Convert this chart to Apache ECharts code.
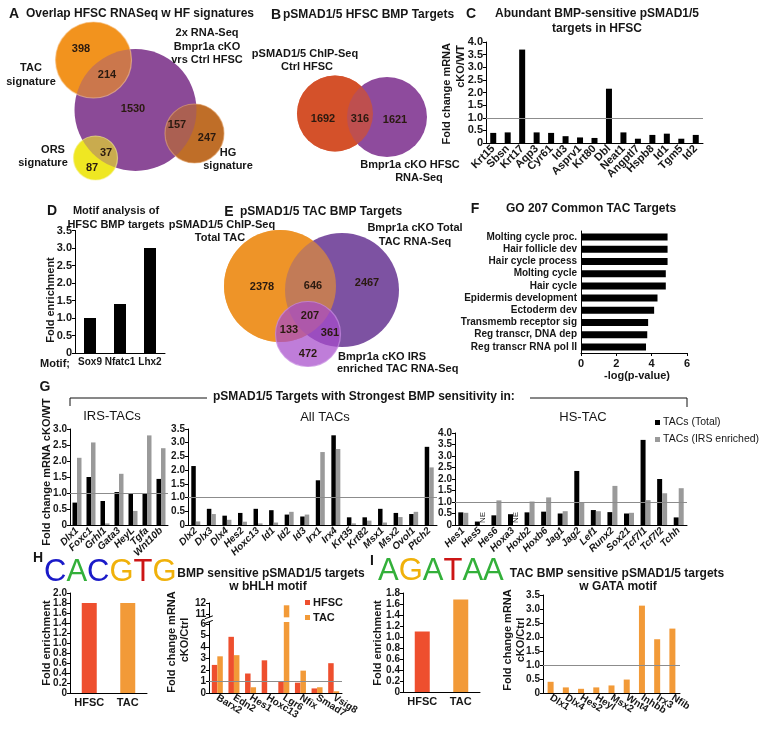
<!DOCTYPE html>
<html><head><meta charset="utf-8">
<script src="https://cdn.jsdelivr.net/npm/echarts@6/dist/echarts.min.js"></script>
<style>html,body{margin:0;padding:0;background:#fff}#c{width:764px;height:730px}</style>
</head><body><div id="c"></div>
<script>
// ---------------- DATA ----------------
const vennACounts = [398, 214, 1530, 157, 247, 37, 87];
const vennBCounts = [1692, 316, 1621];
const vennECounts = [2378, 646, 2467, 207, 133, 361, 472];

const cGenes = ['Krt15','Sbsn','Krt17','Aqp3','Cyr61','Id3','Asprv1','Krt80','Dbl','Neat1','Angptl7','Hspb8','Id1','Tgm5','Id2'];
const cValues = [0.4, 0.42, 3.7, 0.42, 0.4, 0.27, 0.22, 0.2, 2.15, 0.42, 0.17, 0.32, 0.37, 0.17, 0.32];

const dMotifs = ['Sox9','Nfatc1','Lhx2'];
const dValues = [1.0, 1.4, 3.0];

const fTerms = ['Molting cycle proc.','Hair follicle dev','Hair cycle process','Molting cycle','Hair cycle','Epidermis development','Ectoderm dev','Transmemb receptor sig','Reg transcr, DNA dep','Reg transcr RNA pol II'];
const fValues = [4.9, 4.9, 4.9, 4.8, 4.8, 4.33, 4.14, 3.8, 3.75, 3.68];

const gIrsGenes = ['Dlx1','Foxc1','Grhl1','Gata3','HeyL','Tgfa','Wnt10b'];
const gIrsTotal = [0.7, 1.5, 0.75, 1.03, 0.97, 0.97, 1.44];
const gIrsEnriched = [2.1, 2.58, 0.05, 1.6, 0.44, 2.8, 2.4];

const gAllGenes = ['Dlx2','Dlx3','Dlx4','Hes2','Hoxc13','Id1','Id2','Id3','Irx1','Irx4','Krt35','Krt82','Msx1','Msx2','Ovol1','Ptch2'];
const gAllTotal = [2.15, 0.59, 0.34, 0.44, 0.59, 0.54, 0.38, 0.31, 1.63, 3.27, 0.28, 0.28, 0.59, 0.44, 0.4, 2.85];
const gAllEnriched = [0.13, 0.4, 0.19, 0.12, 0.06, 0.09, 0.48, 0.38, 2.66, 2.77, 0.06, 0.16, 0.09, 0.29, 0.48, 2.1];

const gHsGenes = ['Hes1','Hes5','Hes6','Hoxa3','Hoxb2','Hoxb6','Jag1','Jag2','Lef1','Runx2','Sox21','Tcf7l1','Tcf7l2','Tchh'];
const gHsTotal = [0.55, 0.15, 0.42, 0.47, 0.55, 0.58, 0.5, 2.35, 0.65, 0.56, 0.5, 3.7, 2.0, 0.33];
const gHsEnriched = [0.53, null, 1.07, null, 1.02, 1.2, 0.6, 1.0, 0.6, 1.7, 0.53, 1.08, 1.38, 1.6]; // null = NE

const hCats = ['HFSC','TAC'];
const hValues = [1.8, 1.8];

const bhlhGenes = ['Barx2','Edn2','Hes1','Hoxc13','Lgr6','Nfix','Smad7','Vsig8'];
const bhlhHFSC = [2.45, 4.9, 1.7, 2.85, 1.0, 0.9, 0.4, 2.6];
const bhlhTAC = [3.2, 3.3, 0.5, 0, 11.8, 1.95, 0.5, 0.15];
const bhlhTicks = [0, 1, 2, 3, 4, 5, 6, 11, 12];

const iCats = ['HFSC','TAC'];
const iValues = [1.1, 1.68];

const gataGenes = ['Dlx1','Dlx4','Hes2','Heyl','Msx2','Wnt4','Inhbb','Irx3','Nfib'];
const gataValues = [0.4, 0.2, 0.15, 0.2, 0.27, 0.48, 3.12, 1.92, 2.3];

// ---------------- STYLE / LAYOUT ----------------
const FONT = '"Liberation Sans", Arial, Helvetica, sans-serif';
const RED = '#EE4F2E', ORANGE = '#F29A38', GRAY = '#9a9a9a';
const G = [];
function txt(x, y, text, size, opt) {
  opt = opt || {};
  G.push({type:'text', x:x, y:y, rotation: opt.rot || 0, z: 50, silent: true,
    style:{text:text, fill: opt.color || '#161616', fontFamily: FONT, fontSize: size || 11,
      fontWeight: opt.weight || 'bold', fontStyle: opt.italic ? 'italic' : 'normal',
      textAlign: opt.align || 'center', align: opt.align || 'center',
      textVerticalAlign: 'middle', verticalAlign: 'middle', rich: opt.rich}});
}
function circ(cx, cy, r, fill, opacity, z, stroke) {
  G.push({type:'circle', z: z, silent: true, shape:{cx:cx, cy:cy, r:r},
    style:{fill: fill, opacity: opacity, stroke: stroke || null, lineWidth: stroke ? 1.2 : 0}});
}
const R90 = Math.PI / 2;

// Panel titles
txt(14, 14, 'A', 14); txt(26, 14, 'Overlap HFSC RNASeq w HF signatures', 12, {align:'left'});
txt(276, 15, 'B', 14); txt(283, 15, 'pSMAD1/5 HFSC BMP Targets', 12, {align:'left'});
txt(471, 14, 'C', 14); txt(597, 14, 'Abundant BMP-sensitive pSMAD1/5', 12); txt(597, 29, 'targets in HFSC', 12);
txt(52, 211, 'D', 14); txt(116, 211, 'Motif analysis of', 11); txt(116, 225, 'HFSC BMP targets', 11);
txt(229, 212, 'E', 14); txt(240, 212, 'pSMAD1/5 TAC BMP Targets', 12, {align:'left'});
txt(475, 209, 'F', 14); txt(591, 209, 'GO 207 Common TAC Targets', 12);
txt(45, 387, 'G', 14);
txt(38, 558, 'H', 14);
txt(372, 561, 'I', 14);

// ---- Venn A ----
circ(93.5, 60, 38, '#F2931F', 1, 1);
circ(194.5, 133.5, 29.5, '#BF6E28', 1, 1);
circ(95.5, 158, 22, '#EFE622', 1, 1);
circ(135.5, 110, 61, '#8B4A97', 1, 2);
circ(93.5, 60, 38, '#F2931F', 0.62, 3, '#F7C58C');
circ(194.5, 133.5, 29.5, '#BF6E28', 0.62, 3, '#E3A670');
circ(95.5, 158, 22, '#EFE622', 0.62, 3, '#F6F08A');
[[81,49],[107,75],[133,109],[177,125],[207,138],[106,153],[92,168]].forEach((p,i)=>txt(p[0],p[1],String(vennACounts[i]),11,{color:'#2a1a10'}));
txt(31, 68, 'TAC', 11); txt(31, 82, 'signature', 11);
txt(53, 150, 'ORS', 11); txt(43, 163, 'signature', 11);
txt(228, 153, 'HG', 11); txt(228, 166, 'signature', 11);
txt(207, 33, '2x RNA-Seq', 11); txt(207, 47, 'Bmpr1a cKO', 11); txt(207, 60, 'vrs Ctrl HFSC', 11);

// ---- Venn B ----
circ(335, 113.5, 38, '#D4512B', 1, 1);
circ(387, 117, 40, '#8E4B9D', 1, 2);
circ(335, 113.5, 38, '#D4512B', 0.68, 3);
[[323,119],[360,119],[395,120]].forEach((p,i)=>txt(p[0],p[1],String(vennBCounts[i]),11,{color:'#2a1a10'}));
txt(305, 54, 'pSMAD1/5 ChIP-Seq', 11); txt(307, 67, 'Ctrl HFSC', 11);
txt(410, 165, 'Bmpr1a cKO HFSC', 11); txt(419, 178, 'RNA-Seq', 11);

// ---- Venn E ----
circ(280, 286, 56, '#EE9428', 1, 1);
circ(342, 290, 57, '#7D52A2', 1, 2);
circ(280, 286, 56, '#EE9428', 0.62, 3);
circ(308, 334, 32.5, '#A64BCB', 0.72, 4, '#C68BE0');
[[262,287],[313,286],[367,283],[310,316],[289,330],[330,333],[308,354]].forEach((p,i)=>txt(p[0],p[1],String(vennECounts[i]),11,{color:'#2a1a10'}));
txt(222, 225, 'pSMAD1/5 ChIP-Seq', 11); txt(220, 238, 'Total TAC', 11);
txt(415, 228, 'Bmpr1a cKO Total', 11); txt(415, 242, 'TAC RNA-Seq', 11);
txt(338, 357, 'Bmpr1a cKO IRS', 11, {align:'left'}); txt(337, 369, 'enriched TAC RNA-Seq', 11, {align:'left'});

// ---- axis titles ----
txt(447, 43, 'Fold change mRNA', 11, {rot:R90, align:'right'});
txt(461, 45, 'cKO/WT', 11, {rot:R90, align:'right'});
txt(51, 300, 'Fold enrichment', 11, {rot:R90});
txt(55, 364, 'Motif;', 11);
txt(637, 376, '-log(p-value)', 11);
txt(47, 472, 'Fold change mRNA cKO/WT', 11, {rot:R90});
txt(47, 643, 'Fold enrichment', 11, {rot:R90});
txt(172, 642, 'Fold change mRNA', 11, {rot:R90});
txt(185, 640, 'cKO/Ctrl', 11, {rot:R90});
txt(378, 643, 'Fold enrichment', 11, {rot:R90});
txt(508, 640, 'Fold change mRNA', 11, {rot:R90});
txt(521, 640, 'cKO/Ctrl', 11, {rot:R90});

// ---- G header ----
G.push({type:'polyline', z: 20, silent:true, shape:{points:[[70,406],[70,398],[207,398]]}, style:{stroke:'#111', lineWidth:1, fill:null}});
G.push({type:'polyline', z: 20, silent:true, shape:{points:[[530,398],[687,398],[687,407]]}, style:{stroke:'#111', lineWidth:1, fill:null}});
txt(213, 397, 'pSMAD1/5 Targets with Strongest BMP sensitivity in:', 12, {align:'left'});
txt(112, 416, 'IRS-TACs', 13, {weight:'normal'});
txt(325, 417, 'All TACs', 13, {weight:'normal'});
txt(583, 417, 'HS-TAC', 13, {weight:'normal'});

// ---- H / I headers ----
txt(271, 574, 'BMP sensitive pSMAD1/5 targets', 12); txt(268, 587, 'w bHLH motif', 12);
txt(617, 574, 'TAC BMP sensitive pSMAD1/5 targets', 12); txt(618, 587, 'w GATA motif', 12);
const logoRich = {
  b:{fill:'#1a1ac8', fontSize:31, fontFamily:FONT, fontWeight:'normal'},
  g:{fill:'#33b03a', fontSize:31, fontFamily:FONT, fontWeight:'normal'},
  y:{fill:'#f0b10a', fontSize:31, fontFamily:FONT, fontWeight:'normal'},
  r:{fill:'#cc1515', fontSize:31, fontFamily:FONT, fontWeight:'normal'}
};
txt(44, 572, '{b|C}{g|A}{b|C}{y|G}{r|T}{y|G}', 31, {align:'left', weight:'normal', rich:logoRich});
txt(378, 571, '{g|A}{y|G}{g|A}{r|T}{g|A}{g|A}', 31, {align:'left', weight:'normal', rich:logoRich});

// ---------------- bHLH broken axis (6.5–10.5 collapsed) ----------------
const BRK_LO = 6.5, BRK_SHIFT = 4.15;
const toDisp = v => v > BRK_LO ? v - BRK_SHIFT : v;
const fromDisp = d => d > BRK_LO - BRK_SHIFT + 0.2 && d > 6.5 ? d + BRK_SHIFT : d;
const GAP_A = 6.2, GAP_B = 6.6;
const tacDisp = bhlhTAC.map(toDisp);
const tacLower = tacDisp.map(d => Math.min(d, GAP_A));
const tacSpacer = tacDisp.map(d => d > GAP_B ? GAP_B - GAP_A : 0);
const tacUpper = tacDisp.map(d => d > GAP_B ? d - GAP_B : 0);
const bhlhTickDisp = bhlhTicks.map(toDisp);

// ---------------- CHART ----------------
function fmt1(v){ return v === 0 ? '0' : v.toFixed(1); }
function grid(l, t, w, h){ return {left:l, top:t, width:w, height:h, containLabel:false, outerBoundsMode:'none'}; }
function lbl(size, extra){ return Object.assign({color:'#161616', fontFamily:FONT, fontWeight:'bold', fontSize:size}, extra || {}); }
const AX_LINE = {show:true, onZero:false, lineStyle:{color:'#000', width:1}};
function yVal(gi, max, interval, fmt, size, extra){
  return Object.assign({gridIndex:gi, type:'value', min:0, max:max, interval:interval,
    axisLine:AX_LINE, axisTick:{show:true, length:3, lineStyle:{color:'#000'}}, splitLine:{show:false},
    axisLabel:lbl(size || 11, {margin:3, formatter:fmt})}, extra || {});
}
function xCat(gi, data, rotate, size, italic){
  return {gridIndex:gi, type:'category', data:data, axisLine:AX_LINE, axisTick:{show:false},
    axisLabel:lbl(size, {interval:0, rotate:rotate, margin:4, fontStyle: italic ? 'italic' : 'normal'})};
}
const ONE = {silent:true, symbol:['none','none'], label:{show:false}, animation:false,
  lineStyle:{color:'#8c8c8c', width:1.2, type:'solid'}, data:[{yAxis:1}]};

const hsEnrichedData = gHsEnriched.map(v => v === null ?
  {value:0, label:{show:true, formatter:'NE', position:'top', rotate:90, align:'left', verticalAlign:'middle', distance:2, fontSize:8, fontFamily:FONT, color:'#222'}} : v);

const bhlhY = {gridIndex:7, type:'value', min:0, max:toDisp(12),
  axisLine:AX_LINE, splitLine:{show:false},
  axisTick:{show:true, length:3, lineStyle:{color:'#000'}, customValues:bhlhTickDisp},
  axisLabel:lbl(10, {margin:3, customValues:bhlhTickDisp,
    formatter: d => String(Math.round(d > BRK_LO ? d + BRK_SHIFT : (d > 6.05 ? d + BRK_SHIFT : d)))})};

const option = {
  animation:false,
  backgroundColor:'#fff',
  textStyle:{fontFamily:FONT},
  grid:[
    grid(486, 42, 217, 101),   // 0 C
    grid(75, 230.5, 90, 122.5),// 1 D
    grid(581, 231, 106, 122),  // 2 F
    grid(70, 429, 98, 96),     // 3 G IRS
    grid(188, 429, 249, 96),   // 4 G All
    grid(455, 433, 232, 92),   // 5 G HS
    grid(70, 593, 77, 100),    // 6 H enrichment
    grid(209, 603, 133, 90),   // 7 bHLH
    grid(403, 593, 77, 99),    // 8 I enrichment
    grid(543, 595, 137, 98)    // 9 GATA
  ],
  xAxis:[
    xCat(0, cGenes, 45, 11),
    xCat(1, dMotifs, 0, 10),
    {gridIndex:2, type:'value', min:0, max:6, interval:2, axisLine:AX_LINE, axisTick:{show:true, length:3}, splitLine:{show:false}, axisLabel:lbl(11, {margin:5})},
    xCat(3, gIrsGenes, 45, 10, true),
    xCat(4, gAllGenes, 45, 10, true),
    xCat(5, gHsGenes, 45, 10, true),
    xCat(6, hCats, 0, 11),
    xCat(7, bhlhGenes, -32, 10),
    xCat(8, iCats, 0, 11),
    xCat(9, gataGenes, -32, 10)
  ],
  yAxis:[
    yVal(0, 4.0, 0.5, fmt1, 11),
    yVal(1, 3.5, 0.5, fmt1, 11),
    {gridIndex:2, type:'category', inverse:true, data:fTerms, axisLine:AX_LINE, axisTick:{show:false}, axisLabel:lbl(10, {margin:4, interval:0})},
    yVal(3, 3.0, 0.5, fmt1, 10),
    yVal(4, 3.5, 0.5, fmt1, 10),
    yVal(5, 4.0, 0.5, fmt1, 10),
    yVal(6, 2.0, 0.2, fmt1, 10),
    bhlhY,
    yVal(8, 1.8, 0.2, fmt1, 10),
    yVal(9, 3.5, 0.5, fmt1, 10)
  ],
  legend:[
    {data:['TACs (Total)','TACs (IRS enriched)'], orient:'vertical', left:650, top:412, z:30, icon:'rect', itemWidth:5, itemHeight:5, itemGap:6,
      textStyle:{fontFamily:FONT, fontSize:10.5, color:'#161616', padding:[0,0,0,-2]}},
    {data:['HFSC','TAC'], orient:'vertical', left:300, top:592, z:30, icon:'rect', itemWidth:5, itemHeight:5, itemGap:4,
      textStyle:{fontFamily:FONT, fontSize:11, fontWeight:'bold', color:'#161616', padding:[0,0,0,-2]}}
  ],
  series:[
    {type:'bar', xAxisIndex:0, yAxisIndex:0, data:cValues, barWidth:6, itemStyle:{color:'#000'}, markLine:ONE},
    {type:'bar', xAxisIndex:1, yAxisIndex:1, data:dValues, barWidth:12, itemStyle:{color:'#000'}},
    {type:'bar', xAxisIndex:2, yAxisIndex:2, data:fValues, barWidth:7, itemStyle:{color:'#000'}},
    {name:'TACs (Total)', type:'bar', xAxisIndex:3, yAxisIndex:3, data:gIrsTotal, barWidth:4.5, barGap:'0%', itemStyle:{color:'#000'}, markLine:ONE},
    {name:'TACs (IRS enriched)', type:'bar', xAxisIndex:3, yAxisIndex:3, data:gIrsEnriched, barWidth:4.5, barGap:'0%', itemStyle:{color:GRAY}},
    {name:'TACs (Total)', type:'bar', xAxisIndex:4, yAxisIndex:4, data:gAllTotal, barWidth:4.5, barGap:'0%', itemStyle:{color:'#000'}, markLine:ONE},
    {name:'TACs (IRS enriched)', type:'bar', xAxisIndex:4, yAxisIndex:4, data:gAllEnriched, barWidth:4.5, barGap:'0%', itemStyle:{color:GRAY}},
    {name:'TACs (Total)', type:'bar', xAxisIndex:5, yAxisIndex:5, data:gHsTotal, barWidth:5, barGap:'0%', itemStyle:{color:'#000'}, markLine:ONE},
    {name:'TACs (IRS enriched)', type:'bar', xAxisIndex:5, yAxisIndex:5, data:hsEnrichedData, barWidth:5, barGap:'0%', itemStyle:{color:GRAY}},
    {name:'hEnrich', type:'bar', xAxisIndex:6, yAxisIndex:6, barWidth:15,
      data:hValues.map((v,i)=>({value:v, itemStyle:{color:[RED,ORANGE][i]}}))},
    {name:'HFSC', type:'bar', xAxisIndex:7, yAxisIndex:7, data:bhlhHFSC, barWidth:5.5, barGap:'0%', itemStyle:{color:RED}, markLine:ONE},
    {name:'TAC', type:'bar', stack:'tac', xAxisIndex:7, yAxisIndex:7, data:tacLower, barWidth:5.5, barGap:'0%', itemStyle:{color:ORANGE}},
    {name:'tacGap', type:'bar', stack:'tac', xAxisIndex:7, yAxisIndex:7, data:tacSpacer, barWidth:5.5, barGap:'0%', itemStyle:{color:'#fff'}},
    {name:'tacTop', type:'bar', stack:'tac', xAxisIndex:7, yAxisIndex:7, data:tacUpper, barWidth:5.5, barGap:'0%', itemStyle:{color:ORANGE}},
    {name:'iEnrich', type:'bar', xAxisIndex:8, yAxisIndex:8, barWidth:15,
      data:iValues.map((v,i)=>({value:v, itemStyle:{color:[RED,ORANGE][i]}}))},
    {name:'GATA', type:'bar', xAxisIndex:9, yAxisIndex:9, data:gataValues, barWidth:6, itemStyle:{color:ORANGE}, markLine:ONE}
  ],
  graphic: G
};
const chart = echarts.init(document.getElementById('c'), null, {renderer:'canvas'});
chart.setOption(option);

// break mark on the bHLH axis line, placed through the axis scale
const yA = chart.convertToPixel({yAxisIndex:7}, GAP_A);
const yB = chart.convertToPixel({yAxisIndex:7}, GAP_B);
const axX = chart.convertToPixel({xAxisIndex:7}, 0) - 8.5;
const brk = [
  {type:'rect', z:60, silent:true, shape:{x:axX - 4, y:yB, width:8, height:yA - yB}, style:{fill:'#fff'}},
  {type:'line', z:61, silent:true, shape:{x1:axX - 4, y1:yB + 1.5, x2:axX + 4, y2:yB - 1.5}, style:{stroke:'#000', lineWidth:1}},
  {type:'line', z:61, silent:true, shape:{x1:axX - 4, y1:yA + 1.5, x2:axX + 4, y2:yA - 1.5}, style:{stroke:'#000', lineWidth:1}}
];
chart.setOption({graphic: G.concat(brk)});
</script>
</body></html>
